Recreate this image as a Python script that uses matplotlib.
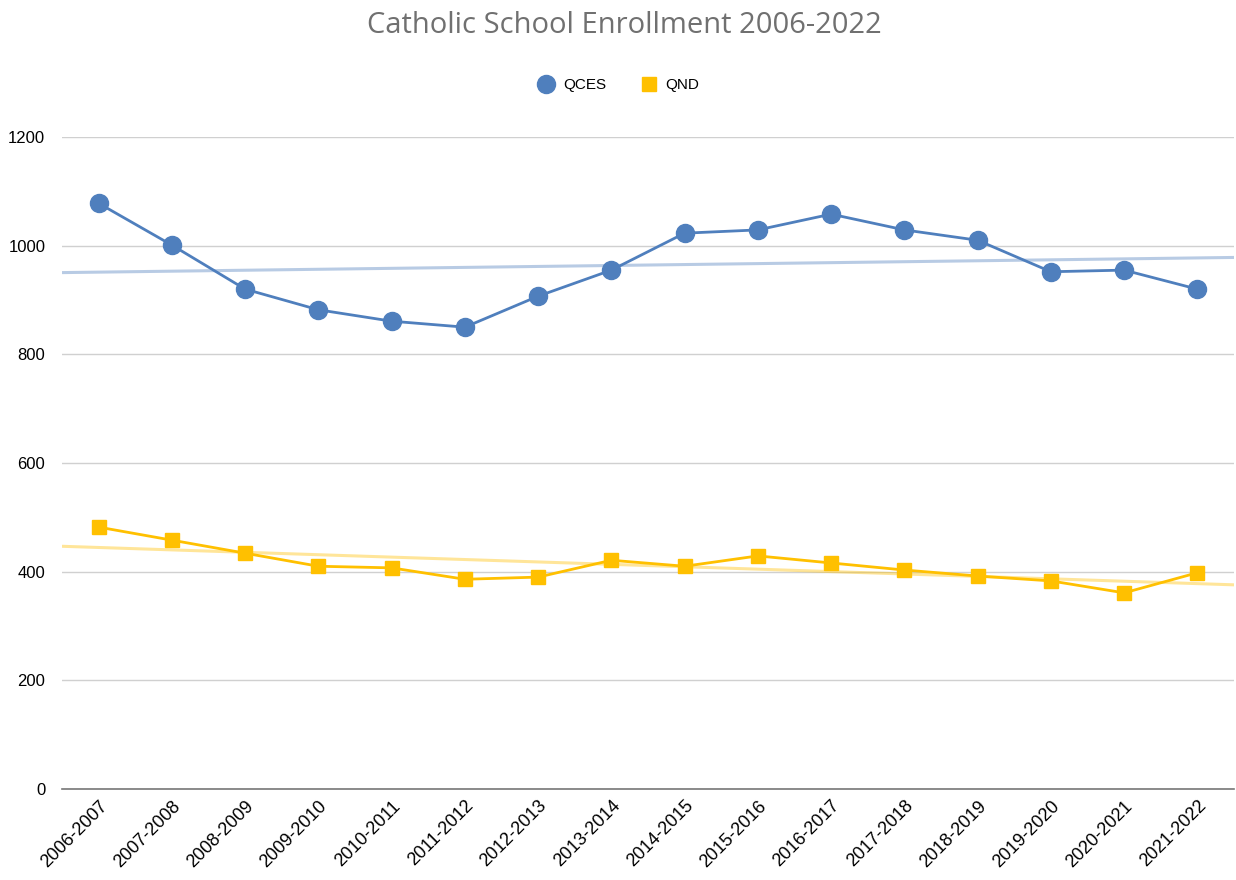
import numpy as np
import matplotlib
matplotlib.use("Agg")
import matplotlib.pyplot as plt

# data
years = ["2006-2007", "2007-2008", "2008-2009", "2009-2010", "2010-2011",
         "2011-2012", "2012-2013", "2013-2014", "2014-2015", "2015-2016",
         "2016-2017", "2017-2018", "2018-2019", "2019-2020", "2020-2021",
         "2021-2022"]
qces = [1078, 1001, 920, 882, 861, 850, 907, 955, 1023, 1029, 1058, 1029, 1010, 952, 955, 920]
qnd = [482, 458, 434, 410, 407, 386, 390, 421, 410, 429, 416, 403, 392, 383, 361, 398]
yticks = [0, 200, 400, 600, 800, 1000, 1200]

BLUE = "#4f7fbd"
YELLOW = "#ffc000"

plt.rcParams['font.family'] = ['Liberation Sans', 'DejaVu Sans']

fig = plt.figure(figsize=(12.36, 8.8), dpi=100)
ax = fig.add_axes([62 / 1236, 91 / 880, 1172 / 1236, 652 / 880])

x = np.arange(len(years))

# linear trend lines over the whole axis width
xt = np.array([-0.5, len(years) - 0.5])
for ys, c in [(qces, BLUE), (qnd, YELLOW)]:
    k, b = np.polyfit(x, ys, 1)
    ax.plot(xt, k * xt + b, color=c, alpha=0.4, lw=2.2, zorder=2)

ax.plot(x, qces, color=BLUE, lw=2.0, marker="o", ms=13, label="QCES", zorder=3)
ax.plot(x, qnd, color=YELLOW, lw=2.0, marker="s", ms=10, label="QND", zorder=3)

ax.set_xlim(-0.5, len(years) - 0.5)
ax.set_ylim(0, 1200)
ax.set_yticks(yticks)
ax.set_xticks(x)
ax.set_xticklabels(years, rotation=45, ha="right", rotation_mode="anchor", fontsize=13)
ax.tick_params(axis="y", labelsize=12, length=0, pad=12)
ax.tick_params(axis="x", length=0, pad=6)
ax.grid(axis="y", color="#d0d0d0", lw=1)
ax.set_axisbelow(True)
for s in ["top", "right", "left"]:
    ax.spines[s].set_visible(False)
ax.spines["bottom"].set_color("#777777")
ax.spines["bottom"].set_linewidth(1.2)

fig.text(0.505, 0.971, "Catholic School Enrollment 2006-2022", ha="center", va="center",
         fontsize=21, color="#707070", family=["Open Sans", "DejaVu Sans"])

handles = ax.get_legend_handles_labels()
leg = fig.legend(handles[0], handles[1], loc="center", bbox_to_anchor=(0.502, 0.903), ncol=2,
                 frameon=False, fontsize=11, handlelength=0.6, columnspacing=2.5,
                 handletextpad=0.8)
for h in leg.legend_handles:
    h.set_linestyle("none")

fig.savefig("out.png", dpi=100)
